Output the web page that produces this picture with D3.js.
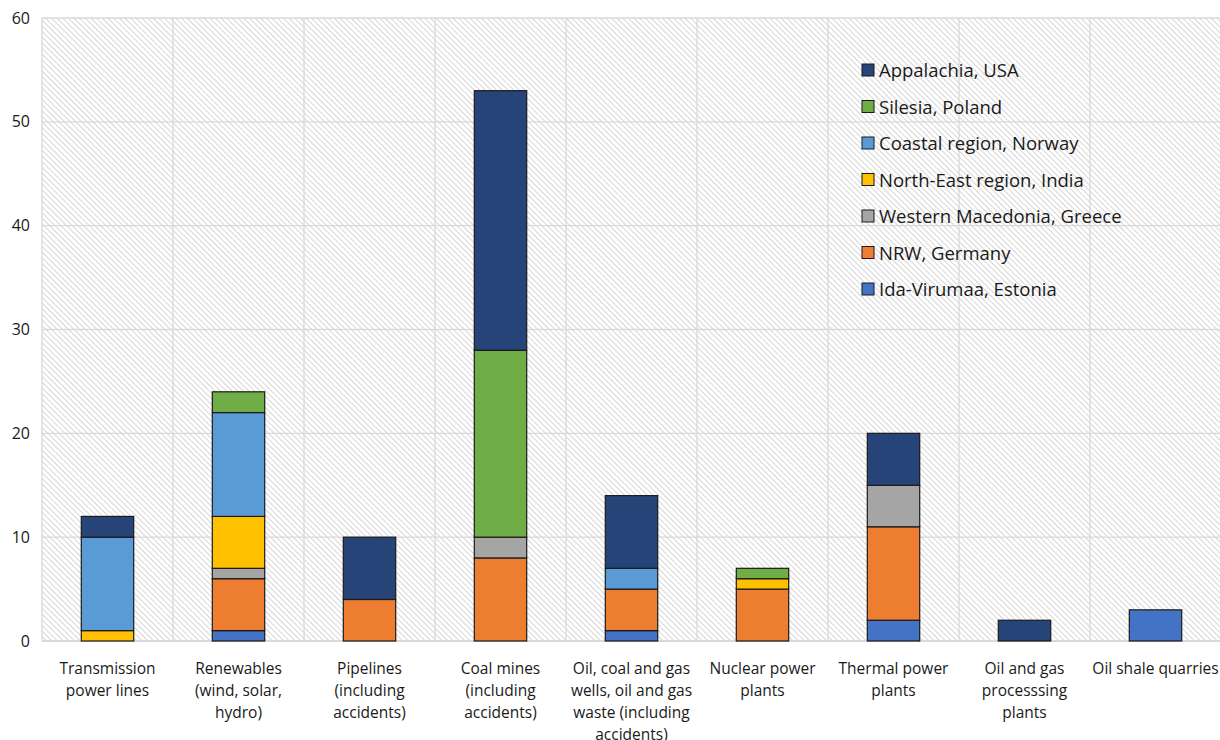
<!DOCTYPE html>
<html>
<head>
<meta charset="utf-8">
<script src="https://cdn.jsdelivr.net/npm/d3@7"></script>
<style>
  html, body { margin: 0; padding: 0; background: #fff; }
  svg text { font-family: "Open Sans", "Noto Sans", sans-serif; fill: #1a1a1a; }
</style>
</head>
<body>
<svg id="chart" width="1220" height="740"></svg>
<script>
// Categories along the x axis (each label split into its display lines)
const categories = [
  ["Transmission", "power lines"],
  ["Renewables", "(wind, solar,", "hydro)"],
  ["Pipelines", "(including", "accidents)"],
  ["Coal mines", "(including", "accidents)"],
  ["Oil, coal and gas", "wells, oil and gas", "waste (including", "accidents)"],
  ["Nuclear power", "plants"],
  ["Thermal power", "plants"],
  ["Oil and gas", "processsing", "plants"],
  ["Oil shale quarries"]
];

// Region series, stacked bottom to top
const regions = [
  "Ida-Virumaa, Estonia",
  "NRW, Germany",
  "Western Macedonia, Greece",
  "North-East region, India",
  "Coastal region, Norway",
  "Silesia, Poland",
  "Appalachia, USA"
];
const colors = ["#4472C4", "#ED7D31", "#A5A5A5", "#FFC000", "#5B9BD5", "#70AD47", "#264478"];

// Values per region, one per category
const estonia = [0, 1, 0, 0, 1, 0, 2, 0, 3];
const germany = [0, 5, 4, 8, 4, 5, 9, 0, 0];
const greece  = [0, 1, 0, 2, 0, 0, 4, 0, 0];
const india   = [1, 5, 0, 0, 0, 1, 0, 0, 0];
const norway  = [9, 10, 0, 0, 2, 0, 0, 0, 0];
const poland  = [0, 2, 0, 18, 0, 1, 0, 0, 0];
const usa     = [2, 0, 6, 25, 7, 0, 5, 2, 0];
const seriesValues = [estonia, germany, greece, india, norway, poland, usa];

const yTicks = [0, 10, 20, 30, 40, 50, 60];

const svg = d3.select("#chart");
const margin = { left: 42, right: 0, top: 18, bottom: 99 };
const W = 1220, H = 740;
const x0 = margin.left, x1 = W - margin.right + 1;
const yTop = margin.top, yBot = H - margin.bottom;

const x = d3.scaleBand().domain(d3.range(categories.length)).range([x0, x1]).paddingInner(0.6).paddingOuter(0.3);
const y = d3.scaleLinear().domain([0, 60]).range([yBot, yTop]);

// Diagonal hatch for the plot background
const defs = svg.append("defs");
const pat = defs.append("pattern")
  .attr("id", "hatch").attr("patternUnits", "userSpaceOnUse")
  .attr("width", 4).attr("height", 4)
  .attr("patternTransform", "rotate(45)");
pat.append("rect").attr("width", 4).attr("height", 4).attr("fill", "#ffffff");
pat.append("line").attr("x1", 0).attr("y1", 0).attr("x2", 4).attr("y2", 0)
  .attr("stroke", "#d6d6d6").attr("stroke-width", 2);

svg.append("rect")
  .attr("x", x0).attr("y", yTop).attr("width", x1 - x0).attr("height", yBot - yTop)
  .attr("fill", "url(#hatch)");

// Grid: horizontal at each tick, vertical at category boundaries
const grid = svg.append("g").attr("stroke", "#d9d9d9").attr("stroke-width", 1.3);
grid.selectAll("line.h").data(yTicks).join("line")
  .attr("x1", x0).attr("x2", x1)
  .attr("y1", d => y(d)).attr("y2", d => y(d));
const step = x.step();
const bounds = d3.range(categories.length + 1).map(i => x0 + i * step);
grid.selectAll("line.v").data(bounds).join("line")
  .attr("x1", d => d).attr("x2", d => d)
  .attr("y1", yTop).attr("y2", yBot);

// Baseline
svg.append("line").attr("x1", x0).attr("x2", x1).attr("y1", yBot).attr("y2", yBot)
  .attr("stroke", "#d9d9d9").attr("stroke-width", 2);

// Stacked data
const rows = categories.map((c, i) => {
  const r = { i };
  regions.forEach((name, k) => { r[name] = seriesValues[k][i]; });
  return r;
});
const stack = d3.stack().keys(regions)(rows);

svg.append("g").selectAll("g").data(stack).join("g")
  .attr("fill", (d, k) => colors[k])
  .selectAll("rect").data(d => d.filter(p => p[1] - p[0] > 0)).join("rect")
  .attr("x", d => x(d.data.i))
  .attr("width", x.bandwidth())
  .attr("y", d => y(d[1]))
  .attr("height", d => y(d[0]) - y(d[1]))
  .attr("stroke", "#1a1a1a").attr("stroke-width", 1.2);

// Y axis labels
const yAxis = d3.axisLeft(y).tickValues(yTicks).tickSize(0).tickPadding(12);
const gy = svg.append("g").attr("transform", `translate(${x0},0)`).call(yAxis);
gy.select(".domain").remove();
gy.selectAll("text").style("font-family", '"Open Sans", "Noto Sans", sans-serif')
  .style("font-size", "16px").attr("fill", "#1a1a1a");

// Category labels
const xl = svg.append("g");
categories.forEach((lines, i) => {
  const t = xl.append("text")
    .attr("text-anchor", "middle")
    .attr("font-size", 15.5);
  lines.forEach((ln, j) => {
    t.append("tspan").attr("x", x(i) + x.bandwidth() / 2).attr("y", yBot + 33 + j * 22).text(ln);
  });
});

// Legend, topmost series first
const legend = svg.append("g").attr("transform", "translate(862,70)");
const order = regions.map((r, k) => k).reverse();
order.forEach((k, j) => {
  const g = legend.append("g").attr("transform", `translate(0,${j * 36.5})`);
  g.append("rect").attr("x", 0).attr("y", -6).attr("width", 12).attr("height", 12)
    .attr("fill", colors[k]).attr("stroke", "#1a1a1a").attr("stroke-width", 1);
  g.append("text").attr("x", 17).attr("y", 7).attr("font-size", 18.5).text(regions[k]);
});
</script>
</body>
</html>
